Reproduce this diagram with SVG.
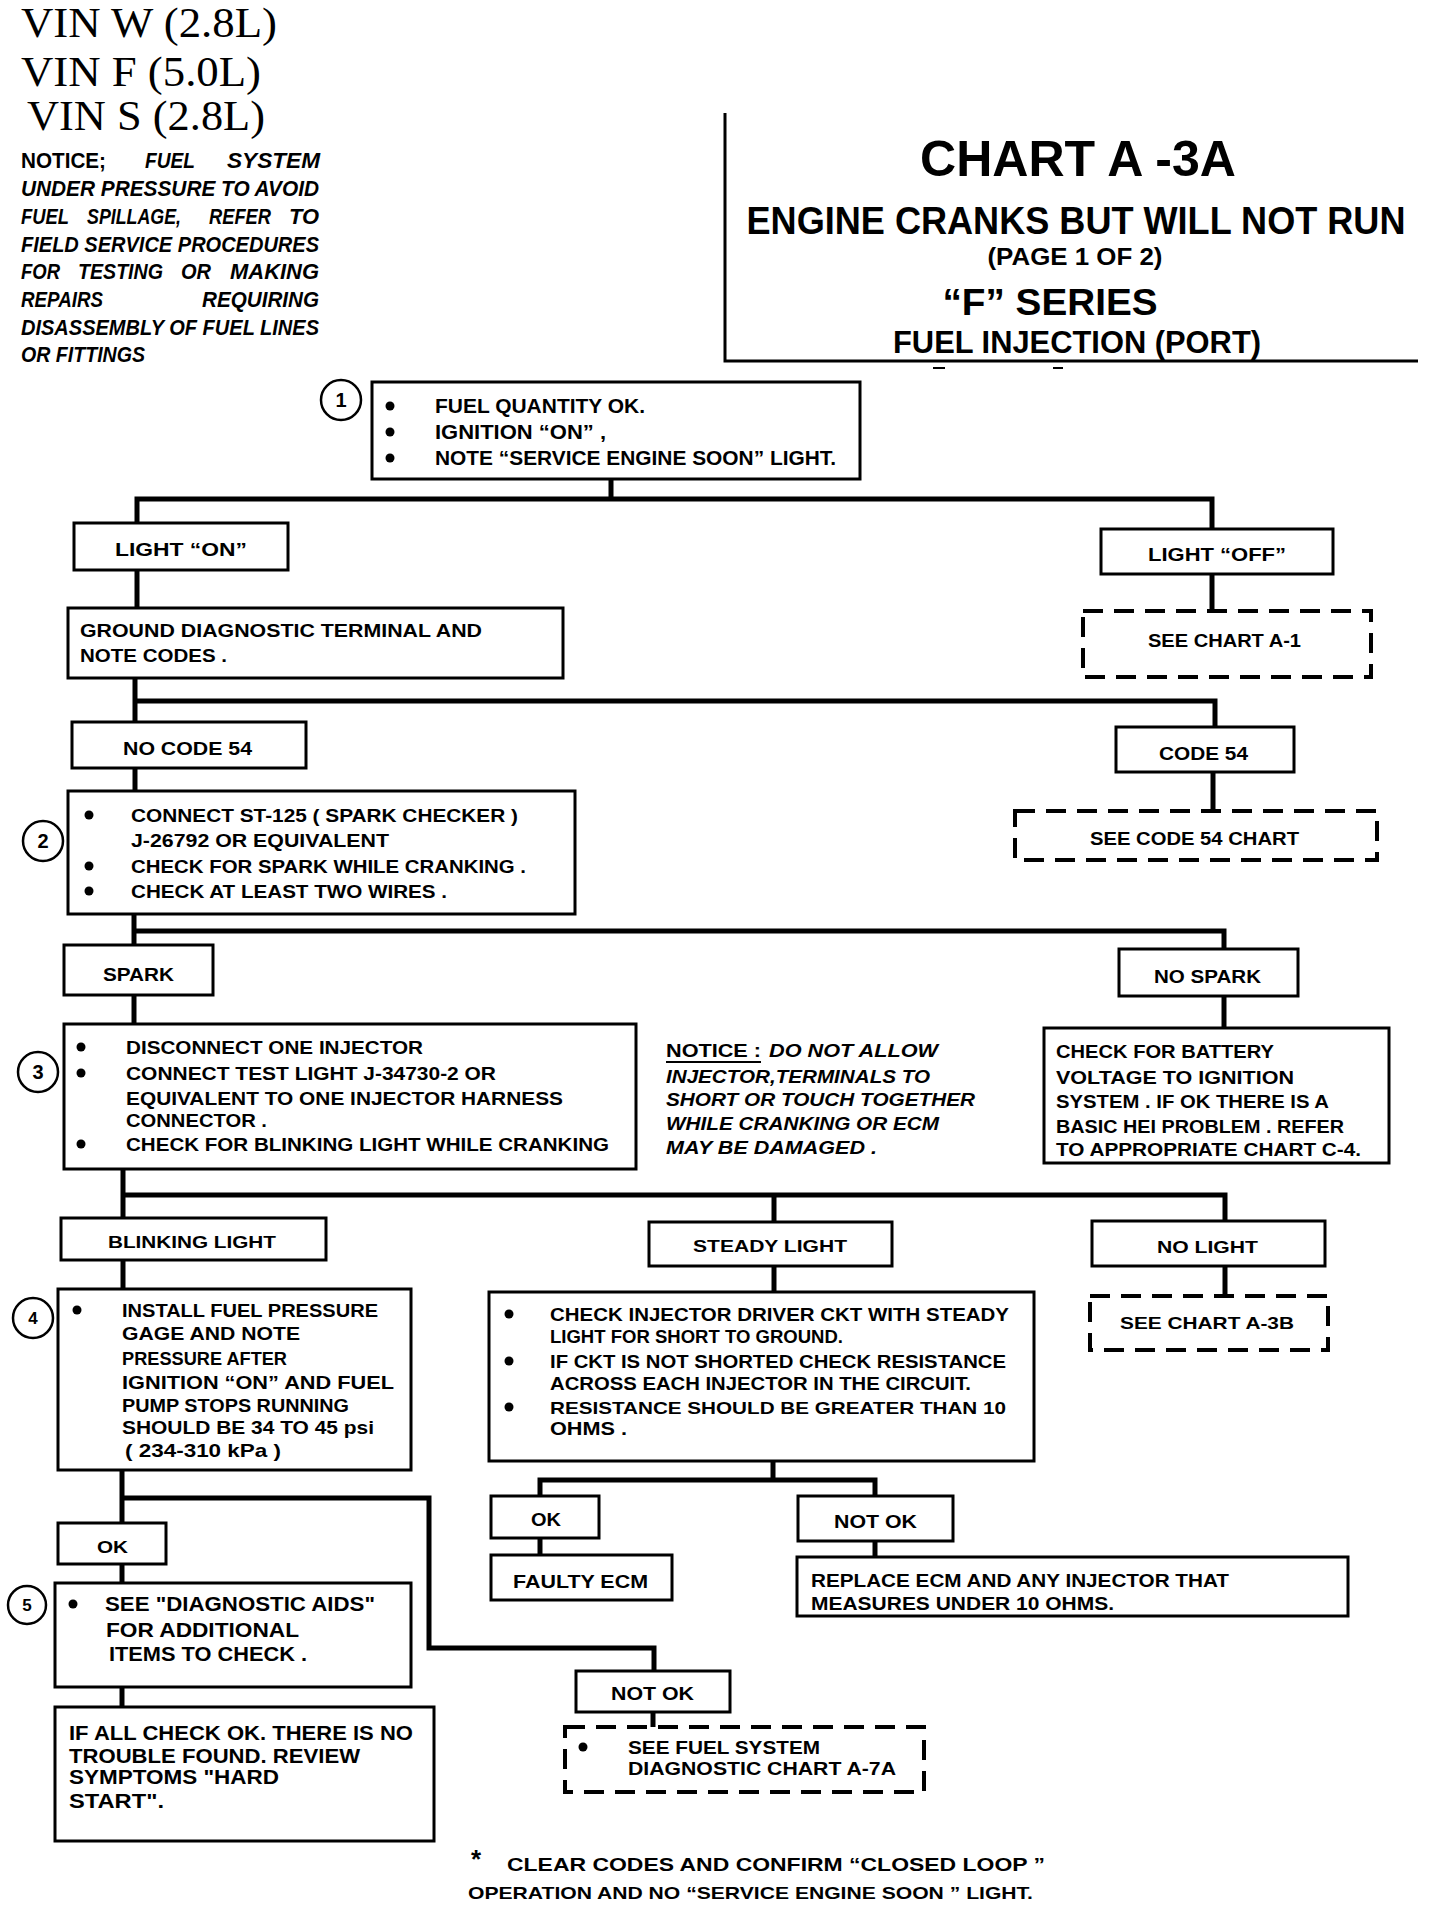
<svg xmlns="http://www.w3.org/2000/svg" width="1440" height="1906" viewBox="0 0 1440 1906">
<style>
.bg{fill:#fff}
.b{fill:#fff;stroke:#000;stroke-width:3}
.d{fill:#fff;stroke:#000;stroke-width:4;stroke-dasharray:20 11}
.c{fill:none;stroke:#000;stroke-width:5;stroke-linejoin:miter;stroke-linecap:square}
.r{fill:none;stroke:#000;stroke-width:3}
.num{fill:#fff;stroke:#000;stroke-width:2.5}
.t{font-family:"Liberation Sans",Arial,sans-serif;font-weight:bold;font-size:19px;fill:#000}
.s{font-family:"Liberation Serif","Times New Roman",serif;font-size:42px;fill:#000}
.i{font-style:italic}
.m{text-anchor:middle}
.e{text-anchor:end}
.k{fill:#000}
</style>
<rect class="bg" x="0" y="0" width="1440" height="1906"/>

<g id="header">
  <text class="s" x="21" y="37" textLength="256" lengthAdjust="spacingAndGlyphs">VIN  W  (2.8L)</text>
  <text class="s" x="21" y="86" textLength="240" lengthAdjust="spacingAndGlyphs">VIN  F  (5.0L)</text>
  <text class="s" x="27" y="130" textLength="238" lengthAdjust="spacingAndGlyphs">VIN  S  (2.8L)</text>
</g>

<g id="notice-fuel" class="t" style="font-size:22px">
  <text x="21" y="168" textLength="85" lengthAdjust="spacingAndGlyphs">NOTICE;</text>
  <text class="i" x="145" y="168" textLength="50" lengthAdjust="spacingAndGlyphs">FUEL</text>
  <text class="i" x="227" y="168" textLength="93" lengthAdjust="spacingAndGlyphs">SYSTEM</text>
  <text class="i" x="21" y="196" textLength="298" lengthAdjust="spacingAndGlyphs">UNDER PRESSURE TO AVOID</text>
  <text class="i" x="21" y="224" textLength="48" lengthAdjust="spacingAndGlyphs">FUEL</text>
  <text class="i" x="87" y="224" textLength="94" lengthAdjust="spacingAndGlyphs">SPILLAGE,</text>
  <text class="i" x="209" y="224" textLength="62" lengthAdjust="spacingAndGlyphs">REFER</text>
  <text class="i" x="289" y="224" textLength="30" lengthAdjust="spacingAndGlyphs">TO</text>
  <text class="i" x="21" y="252" textLength="298" lengthAdjust="spacingAndGlyphs">FIELD SERVICE PROCEDURES</text>
  <text class="i" x="21" y="279" textLength="39" lengthAdjust="spacingAndGlyphs">FOR</text>
  <text class="i" x="78" y="279" textLength="85" lengthAdjust="spacingAndGlyphs">TESTING</text>
  <text class="i" x="181" y="279" textLength="30" lengthAdjust="spacingAndGlyphs">OR</text>
  <text class="i" x="230" y="279" textLength="89" lengthAdjust="spacingAndGlyphs">MAKING</text>
  <text class="i" x="21" y="307" textLength="82" lengthAdjust="spacingAndGlyphs">REPAIRS</text>
  <text class="i" x="202" y="307" textLength="117" lengthAdjust="spacingAndGlyphs">REQUIRING</text>
  <text class="i" x="21" y="335" textLength="298" lengthAdjust="spacingAndGlyphs">DISASSEMBLY OF FUEL LINES</text>
  <text class="i" x="21" y="362" textLength="124" lengthAdjust="spacingAndGlyphs">OR FITTINGS</text>
</g>

<g id="title">
  <path class="r" d="M725 113 V361 H1418"/>
  <path d="M933 368 H945 M1053 368 H1063" stroke="#000" stroke-width="2"/>
  <text class="t m" x="1078" y="176" style="font-size:50px" textLength="316" lengthAdjust="spacingAndGlyphs">CHART  A -3A</text>
  <text class="t m" x="1076" y="234" style="font-size:38px" textLength="659" lengthAdjust="spacingAndGlyphs">ENGINE CRANKS BUT WILL NOT RUN</text>
  <text class="t m" x="1075" y="265" style="font-size:23px" textLength="175" lengthAdjust="spacingAndGlyphs">(PAGE 1 OF 2)</text>
  <text class="t m" x="1050" y="315" style="font-size:36px" textLength="215" lengthAdjust="spacingAndGlyphs">“F” SERIES</text>
  <text class="t m" x="1077" y="353" style="font-size:32px" textLength="368" lengthAdjust="spacingAndGlyphs">FUEL INJECTION  (PORT)</text>
</g>

<g id="connectors">
  <path class="c" d="M611 479 V499 M137 499 H1212 M137 499 V523 M1212 499 V529"/>
  <path class="c" d="M137 570 V608"/>
  <path class="c" d="M1212 574 V611"/>
  <path class="c" d="M135 678 V701 M135 701 H1215 M135 701 V722 M1215 701 V727"/>
  <path class="c" d="M135 768 V791"/>
  <path class="c" d="M1213 772 V811"/>
  <path class="c" d="M134 914 V931 M134 931 H1224 M134 931 V945 M1224 931 V949"/>
  <path class="c" d="M134 995 V1024"/>
  <path class="c" d="M1224 996 V1028"/>
  <path class="c" d="M123 1169 V1195 M123 1195 H1225 M123 1195 V1218 M774 1195 V1222 M1225 1195 V1221"/>
  <path class="c" d="M123 1260 V1289"/>
  <path class="c" d="M774 1266 V1292"/>
  <path class="c" d="M1225 1266 V1296"/>
  <path class="c" d="M773 1461 V1480 M540 1480 H875 M540 1480 V1496 M875 1480 V1496"/>
  <path class="c" d="M122 1470 V1523 M122 1498 H429 V1648 H654 V1671"/>
  <path class="c" d="M122 1564 V1583"/>
  <path class="c" d="M122 1687 V1707"/>
  <path class="c" d="M540 1538 V1555"/>
  <path class="c" d="M875 1541 V1557"/>
  <path class="c" d="M653 1712 V1727"/>
</g>

<g id="n1">
  <rect class="b" x="372" y="382" width="488" height="97"/>
  <circle class="num" cx="341" cy="400" r="20"/>
  <text class="t m" x="341" y="407" style="font-size:20px">1</text>
  <circle class="k" cx="390" cy="406" r="4.5"/>
  <circle class="k" cx="390" cy="432" r="4.5"/>
  <circle class="k" cx="390" cy="458" r="4.5"/>
  <text class="t" x="435" y="413" style="font-size:20px" textLength="210" lengthAdjust="spacingAndGlyphs">FUEL QUANTITY OK.</text>
  <text class="t" x="435" y="439" style="font-size:20px" textLength="171" lengthAdjust="spacingAndGlyphs">IGNITION “ON” ,</text>
  <text class="t" x="435" y="465" style="font-size:20px" textLength="401" lengthAdjust="spacingAndGlyphs">NOTE “SERVICE ENGINE SOON” LIGHT.</text>
</g>

<g id="n-light-on">
  <rect class="b" x="74" y="523" width="214" height="47"/>
  <text class="t" x="115" y="556" textLength="132" lengthAdjust="spacingAndGlyphs">LIGHT  “ON”</text>
</g>
<g id="n-light-off">
  <rect class="b" x="1101" y="529" width="232" height="45"/>
  <text class="t" x="1148" y="561" textLength="138" lengthAdjust="spacingAndGlyphs">LIGHT  “OFF”</text>
</g>
<g id="n-chart-a1">
  <rect class="d" x="1083" y="611" width="288" height="66"/>
  <text class="t" x="1148" y="647" textLength="153" lengthAdjust="spacingAndGlyphs">SEE CHART A-1</text>
</g>

<g id="n-ground">
  <rect class="b" x="68" y="608" width="495" height="70"/>
  <text class="t" x="80" y="637" textLength="402" lengthAdjust="spacingAndGlyphs">GROUND DIAGNOSTIC TERMINAL AND</text>
  <text class="t" x="80" y="662" textLength="147" lengthAdjust="spacingAndGlyphs">NOTE CODES .</text>
</g>

<g id="n-no-code54">
  <rect class="b" x="72" y="722" width="234" height="46"/>
  <text class="t" x="123" y="755" textLength="129" lengthAdjust="spacingAndGlyphs">NO CODE 54</text>
</g>
<g id="n-code54">
  <rect class="b" x="1116" y="727" width="178" height="45"/>
  <text class="t" x="1159" y="760" textLength="89" lengthAdjust="spacingAndGlyphs">CODE 54</text>
</g>
<g id="n-code54-chart">
  <rect class="d" x="1015" y="811" width="362" height="49"/>
  <text class="t" x="1090" y="845" textLength="209" lengthAdjust="spacingAndGlyphs">SEE CODE 54 CHART</text>
</g>

<g id="n2">
  <rect class="b" x="68" y="791" width="507" height="123"/>
  <circle class="num" cx="43" cy="841" r="20"/>
  <text class="t m" x="43" y="848" style="font-size:20px">2</text>
  <circle class="k" cx="89" cy="815" r="4.5"/>
  <circle class="k" cx="89" cy="866" r="4.5"/>
  <circle class="k" cx="89" cy="891" r="4.5"/>
  <text class="t" x="131" y="822" textLength="387" lengthAdjust="spacingAndGlyphs">CONNECT ST-125  ( SPARK CHECKER )</text>
  <text class="t" x="131" y="847" textLength="258" lengthAdjust="spacingAndGlyphs">J-26792 OR EQUIVALENT</text>
  <text class="t" x="131" y="873" textLength="395" lengthAdjust="spacingAndGlyphs">CHECK FOR SPARK WHILE CRANKING .</text>
  <text class="t" x="131" y="898" textLength="316" lengthAdjust="spacingAndGlyphs">CHECK AT LEAST TWO WIRES .</text>
</g>

<g id="n-spark">
  <rect class="b" x="64" y="945" width="149" height="50"/>
  <text class="t" x="103" y="981" textLength="71" lengthAdjust="spacingAndGlyphs">SPARK</text>
</g>
<g id="n-no-spark">
  <rect class="b" x="1119" y="949" width="179" height="47"/>
  <text class="t" x="1154" y="983" textLength="107" lengthAdjust="spacingAndGlyphs">NO SPARK</text>
</g>

<g id="n3">
  <rect class="b" x="64" y="1024" width="572" height="145"/>
  <circle class="num" cx="38" cy="1072" r="20"/>
  <text class="t m" x="38" y="1079" style="font-size:20px">3</text>
  <circle class="k" cx="81" cy="1047" r="4.5"/>
  <circle class="k" cx="81" cy="1073" r="4.5"/>
  <circle class="k" cx="81" cy="1144" r="4.5"/>
  <text class="t" x="126" y="1054" textLength="297" lengthAdjust="spacingAndGlyphs">DISCONNECT ONE INJECTOR</text>
  <text class="t" x="126" y="1080" textLength="370" lengthAdjust="spacingAndGlyphs">CONNECT TEST LIGHT J-34730-2 OR</text>
  <text class="t" x="126" y="1105" textLength="437" lengthAdjust="spacingAndGlyphs">EQUIVALENT TO ONE INJECTOR HARNESS</text>
  <text class="t" x="126" y="1127" textLength="141" lengthAdjust="spacingAndGlyphs">CONNECTOR .</text>
  <text class="t" x="126" y="1151" textLength="483" lengthAdjust="spacingAndGlyphs">CHECK FOR BLINKING LIGHT WHILE CRANKING</text>
</g>

<g id="notice-injector">
  <text class="t" x="666" y="1057" textLength="95" lengthAdjust="spacingAndGlyphs">NOTICE :</text>
  <line x1="666" y1="1062" x2="761" y2="1062" stroke="#000" stroke-width="2"/>
  <text class="t i" x="769" y="1057" textLength="169" lengthAdjust="spacingAndGlyphs">DO NOT ALLOW</text>
  <text class="t i" x="666" y="1083" textLength="264" lengthAdjust="spacingAndGlyphs">INJECTOR,TERMINALS TO</text>
  <text class="t i" x="666" y="1106" textLength="309" lengthAdjust="spacingAndGlyphs">SHORT OR TOUCH TOGETHER</text>
  <text class="t i" x="666" y="1130" textLength="273" lengthAdjust="spacingAndGlyphs">WHILE CRANKING OR ECM</text>
  <text class="t i" x="666" y="1154" textLength="211" lengthAdjust="spacingAndGlyphs">MAY BE DAMAGED .</text>
</g>

<g id="n-battery">
  <rect class="b" x="1044" y="1028" width="345" height="135"/>
  <text class="t" x="1056" y="1058" textLength="218" lengthAdjust="spacingAndGlyphs">CHECK FOR BATTERY</text>
  <text class="t" x="1056" y="1084" textLength="238" lengthAdjust="spacingAndGlyphs">VOLTAGE TO IGNITION</text>
  <text class="t" x="1056" y="1108" textLength="273" lengthAdjust="spacingAndGlyphs">SYSTEM . IF OK THERE IS A</text>
  <text class="t" x="1056" y="1133" textLength="288" lengthAdjust="spacingAndGlyphs">BASIC HEI PROBLEM . REFER</text>
  <text class="t" x="1056" y="1156" textLength="305" lengthAdjust="spacingAndGlyphs">TO  APPROPRIATE CHART C-4.</text>
</g>

<g id="n-blinking">
  <rect class="b" x="61" y="1218" width="265" height="42"/>
  <text class="t" x="108" y="1248" style="font-size:17px" textLength="168" lengthAdjust="spacingAndGlyphs">BLINKING LIGHT</text>
</g>
<g id="n-steady">
  <rect class="b" x="649" y="1222" width="243" height="44"/>
  <text class="t" x="693" y="1252" style="font-size:17px" textLength="154" lengthAdjust="spacingAndGlyphs">STEADY LIGHT</text>
</g>
<g id="n-no-light">
  <rect class="b" x="1092" y="1221" width="233" height="45"/>
  <text class="t" x="1157" y="1253" style="font-size:17px" textLength="101" lengthAdjust="spacingAndGlyphs">NO LIGHT</text>
</g>
<g id="n-chart-a3b">
  <rect class="d" x="1090" y="1296" width="238" height="54"/>
  <text class="t" x="1120" y="1329" style="font-size:17px" textLength="174" lengthAdjust="spacingAndGlyphs">SEE  CHART A-3B</text>
</g>

<g id="n4">
  <rect class="b" x="58" y="1289" width="353" height="181"/>
  <circle class="num" cx="33" cy="1318" r="20"/>
  <text class="t m" x="33" y="1324" style="font-size:17px">4</text>
  <circle class="k" cx="77" cy="1310" r="4.5"/>
  <text class="t" x="122" y="1317" textLength="256" lengthAdjust="spacingAndGlyphs">INSTALL FUEL PRESSURE</text>
  <text class="t" x="122" y="1340" textLength="178" lengthAdjust="spacingAndGlyphs">GAGE AND NOTE</text>
  <text class="t" x="122" y="1365" style="font-size:18px" textLength="165" lengthAdjust="spacingAndGlyphs">PRESSURE AFTER</text>
  <text class="t" x="122" y="1389" textLength="272" lengthAdjust="spacingAndGlyphs">IGNITION “ON” AND FUEL</text>
  <text class="t" x="122" y="1412" style="font-size:18px" textLength="227" lengthAdjust="spacingAndGlyphs">PUMP STOPS RUNNING</text>
  <text class="t" x="122" y="1434" style="font-size:18px" textLength="252" lengthAdjust="spacingAndGlyphs">SHOULD BE 34 TO 45 psi</text>
  <text class="t" x="125" y="1457" textLength="156" lengthAdjust="spacingAndGlyphs">( 234-310 kPa )</text>
</g>

<g id="n-injector-check">
  <rect class="b" x="489" y="1292" width="545" height="169"/>
  <circle class="k" cx="509" cy="1314" r="4.5"/>
  <circle class="k" cx="509" cy="1361" r="4.5"/>
  <circle class="k" cx="509" cy="1407" r="4.5"/>
  <text class="t" x="550" y="1321" textLength="459" lengthAdjust="spacingAndGlyphs">CHECK INJECTOR DRIVER CKT WITH STEADY</text>
  <text class="t" x="550" y="1343" textLength="293" lengthAdjust="spacingAndGlyphs">LIGHT FOR SHORT TO GROUND.</text>
  <text class="t" x="550" y="1368" textLength="456" lengthAdjust="spacingAndGlyphs">IF CKT IS NOT SHORTED CHECK RESISTANCE</text>
  <text class="t" x="550" y="1390" textLength="421" lengthAdjust="spacingAndGlyphs">ACROSS EACH INJECTOR IN THE CIRCUIT.</text>
  <text class="t" x="550" y="1414" style="font-size:17px" textLength="456" lengthAdjust="spacingAndGlyphs">RESISTANCE SHOULD BE GREATER THAN 10</text>
  <text class="t" x="550" y="1435" textLength="77" lengthAdjust="spacingAndGlyphs">OHMS .</text>
</g>

<g id="n-ok-left">
  <rect class="b" x="58" y="1523" width="108" height="41"/>
  <text class="t" x="97" y="1553" style="font-size:17px" textLength="31" lengthAdjust="spacingAndGlyphs">OK</text>
</g>

<g id="n5">
  <rect class="b" x="55" y="1583" width="356" height="104"/>
  <circle class="num" cx="27" cy="1605" r="19"/>
  <text class="t m" x="27" y="1611" style="font-size:17px">5</text>
  <circle class="k" cx="73" cy="1604" r="4.5"/>
  <text class="t" x="105" y="1611" style="font-size:20px" textLength="270" lengthAdjust="spacingAndGlyphs">SEE "DIAGNOSTIC AIDS"</text>
  <text class="t" x="106" y="1637" style="font-size:20px" textLength="193" lengthAdjust="spacingAndGlyphs">FOR  ADDITIONAL</text>
  <text class="t" x="109" y="1661" style="font-size:20px" textLength="198" lengthAdjust="spacingAndGlyphs">ITEMS TO CHECK .</text>
</g>

<g id="n6">
  <rect class="b" x="55" y="1707" width="379" height="134"/>
  <text class="t" x="69" y="1740" style="font-size:21px" textLength="344" lengthAdjust="spacingAndGlyphs">IF ALL CHECK OK. THERE IS NO</text>
  <text class="t" x="69" y="1763" style="font-size:21px" textLength="291" lengthAdjust="spacingAndGlyphs">TROUBLE FOUND. REVIEW</text>
  <text class="t" x="69" y="1784" style="font-size:21px" textLength="210" lengthAdjust="spacingAndGlyphs">SYMPTOMS "HARD</text>
  <text class="t" x="69" y="1808" style="font-size:21px" textLength="95" lengthAdjust="spacingAndGlyphs">START".</text>
</g>

<g id="n-ok-mid">
  <rect class="b" x="491" y="1496" width="108" height="42"/>
  <text class="t" x="531" y="1526" textLength="30" lengthAdjust="spacingAndGlyphs">OK</text>
</g>
<g id="n-faulty-ecm">
  <rect class="b" x="491" y="1555" width="181" height="45"/>
  <text class="t" x="513" y="1588" textLength="135" lengthAdjust="spacingAndGlyphs">FAULTY ECM</text>
</g>
<g id="n-not-ok-mid">
  <rect class="b" x="798" y="1496" width="155" height="45"/>
  <text class="t" x="834" y="1528" textLength="83" lengthAdjust="spacingAndGlyphs">NOT OK</text>
</g>
<g id="n-replace-ecm">
  <rect class="b" x="797" y="1557" width="551" height="59"/>
  <text class="t" x="811" y="1587" textLength="418" lengthAdjust="spacingAndGlyphs">REPLACE ECM AND ANY INJECTOR THAT</text>
  <text class="t" x="811" y="1610" textLength="303" lengthAdjust="spacingAndGlyphs">MEASURES UNDER 10 OHMS.</text>
</g>

<g id="n-not-ok-bottom">
  <rect class="b" x="576" y="1671" width="154" height="41"/>
  <text class="t" x="611" y="1700" textLength="83" lengthAdjust="spacingAndGlyphs">NOT OK</text>
</g>
<g id="n-chart-a7a">
  <rect class="d" x="565" y="1727" width="359" height="65"/>
  <circle class="k" cx="583" cy="1747" r="4.5"/>
  <text class="t" x="628" y="1754" style="font-size:18px" textLength="192" lengthAdjust="spacingAndGlyphs">SEE  FUEL SYSTEM</text>
  <text class="t" x="628" y="1775" style="font-size:18px" textLength="268" lengthAdjust="spacingAndGlyphs">DIAGNOSTIC CHART A-7A</text>
</g>

<g id="footer">
  <text class="t" x="471" y="1868" style="font-size:26px">*</text>
  <text class="t" x="507" y="1871" textLength="538" lengthAdjust="spacingAndGlyphs">CLEAR  CODES  AND  CONFIRM  “CLOSED  LOOP ”</text>
  <text class="t" x="468" y="1899" style="font-size:17px" textLength="565" lengthAdjust="spacingAndGlyphs">OPERATION AND NO “SERVICE ENGINE SOON ” LIGHT.</text>
</g>
</svg>
